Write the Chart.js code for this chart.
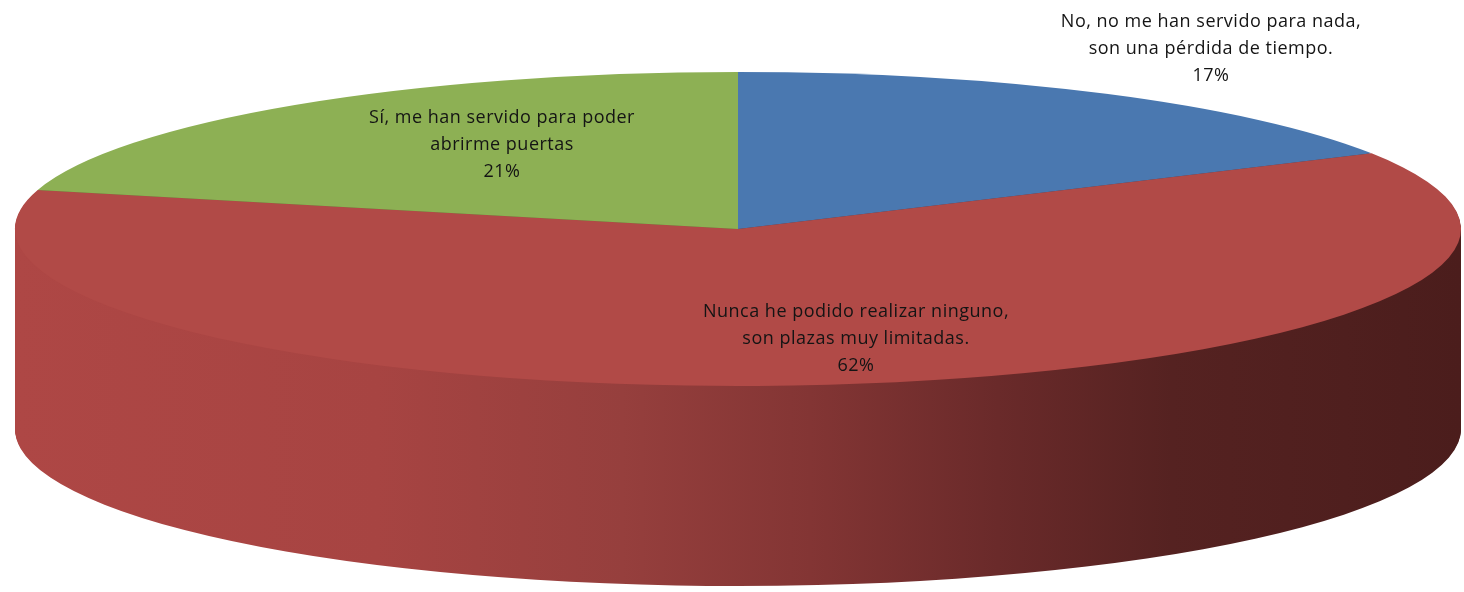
<!DOCTYPE html>
<html>
<head>
<meta charset="utf-8">
<script src="https://cdn.jsdelivr.net/npm/chart.js@4.4.1/dist/chart.umd.min.js"></script>
<style>
  html, body { margin: 0; padding: 0; background: #fff; }
  #wrap { width: 1464px; height: 592px; position: relative; }
</style>
</head>
<body>
<div id="wrap"><canvas id="pie"></canvas></div>
<script>
// data
const categories = [
    ['No, no me han servido para nada,', 'son una pérdida de tiempo.'],
    ['Nunca he podido realizar ninguno,', 'son plazas muy limitadas.'],
    ['Sí, me han servido para poder', 'abrirme puertas']
];
const percentages = [17, 62, 21];
const topColors = ['#4a78b0', '#b14a47', '#8db054'];
const sideColors = ['#2c4a70', null, '#5a7434'];

// where the flat pie is stretched to on screen (top face ellipse)
const ellipse = { cx: 738, cy: 229, rx: 723, ry: 157, depth: 200 };
// label anchors (screen centre of first line)
const labelSpots = [
    { x: 1211, y: 22 },
    { x: 856, y: 312 },
    { x: 502, y: 118 }
];

function sideGradient(ctx, el) {
    const g = ctx.createLinearGradient(el.x - el.outerRadius, 0, el.x + el.outerRadius, 0);
    g.addColorStop(0, '#ae4745');
    g.addColorStop(0.25, '#a74442');
    g.addColorStop(0.42, '#963f3d');
    g.addColorStop(0.55, '#833534');
    g.addColorStop(0.68, '#6a2a2a');
    g.addColorStop(0.8, '#552221');
    g.addColorStop(1, '#4b1d1c');
    return g;
}

const pie3d = {
    id: 'pie3d',
    beforeDatasetsDraw(chart) {
        const ctx = chart.ctx;
        const meta = chart.getDatasetMeta(0);
        const first = meta.data[0];
        const R = first.outerRadius;
        const sx = ellipse.rx / R, sy = ellipse.ry / R;
        ctx.save();
        ctx.translate(ellipse.cx, ellipse.cy);
        ctx.scale(sx, sy);
        ctx.translate(-first.x, -first.y);

        // side walls, back slices first
        const order = meta.data.map((el, i) => i).sort((a, b) => {
            const ma = (meta.data[a].startAngle + meta.data[a].endAngle) / 2;
            const mb = (meta.data[b].startAngle + meta.data[b].endAngle) / 2;
            return Math.sin(ma) - Math.sin(mb);
        });
        const steps = ellipse.depth;
        order.forEach(i => {
            const el = meta.data[i];
            ctx.fillStyle = sideColors[i] || sideGradient(ctx, el);
            for (let s = steps; s > 0; s--) {
                ctx.save();
                ctx.translate(0, s / sy);
                ctx.beginPath();
                ctx.moveTo(el.x, el.y);
                ctx.arc(el.x, el.y, el.outerRadius, el.startAngle, el.endAngle);
                ctx.closePath();
                ctx.fill();
                ctx.restore();
            }
        });
    },
    afterDatasetsDraw(chart) {
        const ctx = chart.ctx;
        ctx.restore();

        // labels: name lines + share
        ctx.save();
        ctx.font = '18px "Open Sans"';
        ctx.letterSpacing = '0.5px';
        ctx.textAlign = 'center';
        ctx.textBaseline = 'middle';
        ctx.fillStyle = '#141414';
        const total = percentages.reduce((a, b) => a + b, 0);
        categories.forEach((lines, i) => {
            const spot = labelSpots[i];
            const all = lines.concat([Math.round(percentages[i] / total * 100) + '%']);
            all.forEach((t, k) => ctx.fillText(t, spot.x, spot.y + k * 27));
        });
        ctx.restore();
    }
};

new Chart(document.getElementById('pie'), {
    type: 'pie',
    data: {
        labels: categories.map(c => c.join(' ')),
        datasets: [{
            data: percentages,
            backgroundColor: topColors,
            borderWidth: 0
        }]
    },
    options: {
        responsive: true,
        maintainAspectRatio: false,
        animation: false,
        plugins: {
            legend: { display: false },
            tooltip: { enabled: false }
        }
    },
    plugins: [pie3d]
});
</script>
</body>
</html>
